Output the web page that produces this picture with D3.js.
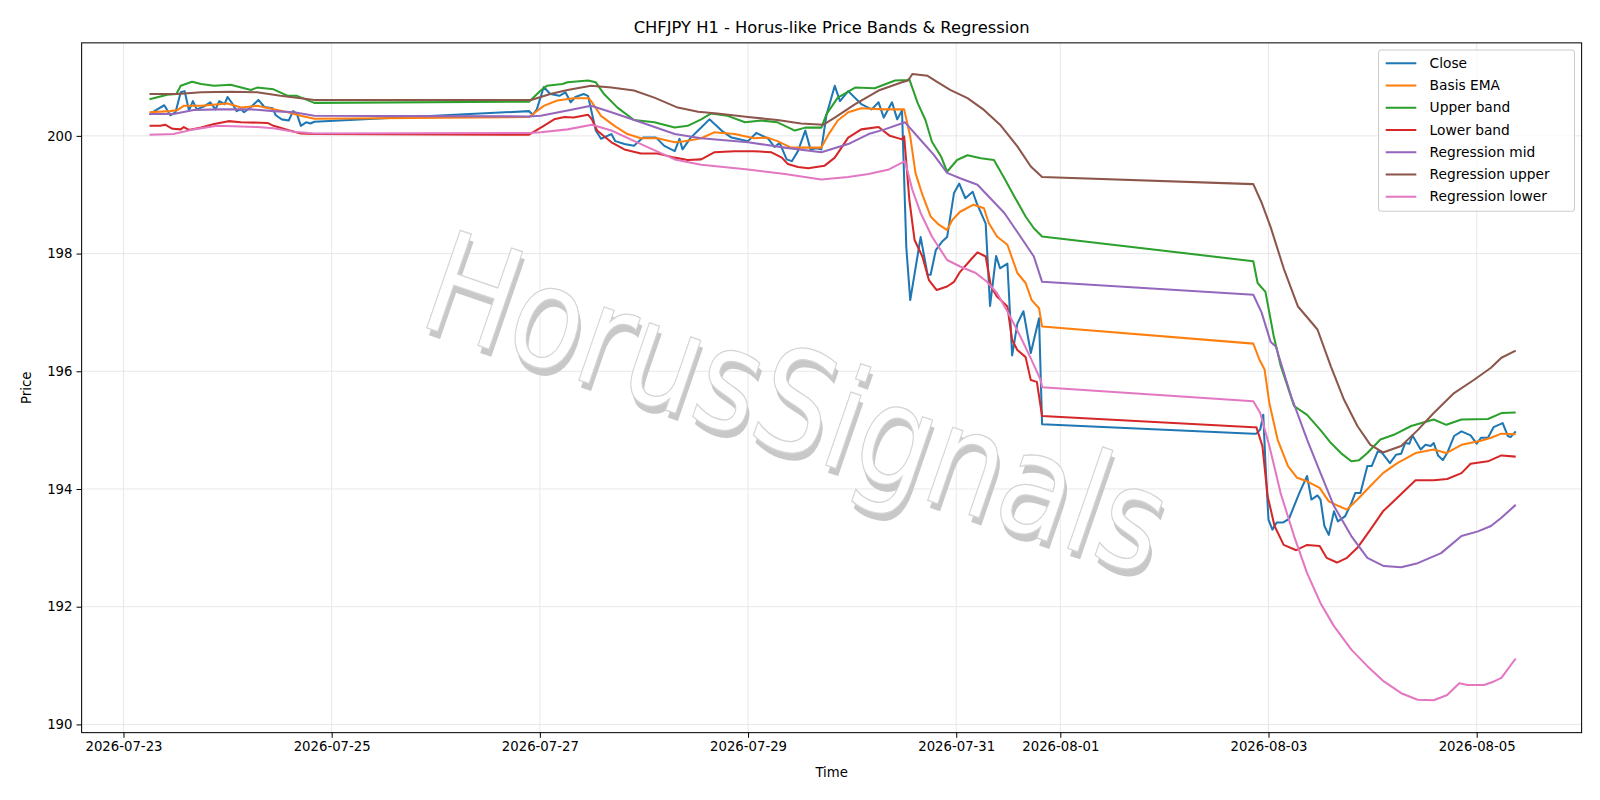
<!DOCTYPE html>
<html><head><meta charset="utf-8">
<script src="https://cdn.jsdelivr.net/npm/d3@7"></script>
<style>body{margin:0;background:#fff}svg{font-family:"DejaVu Sans",sans-serif}</style>
</head><body><svg id="c" width="1600" height="800"></svg>
<script>
// times are hours after 2026-07-23 00:00
const closeData = [[6,200.36],[7.3,200.43],[9.4,200.52],[10.8,200.35],[12,200.40],[13.2,200.74],[14.1,200.76],[15.1,200.43],[16,200.59],[16.9,200.45],[18.6,200.50],[20,200.57],[21.2,200.45],[22.1,200.59],[23.3,200.54],[24,200.66],[24.9,200.57],[26.1,200.42],[27.1,200.45],[27.8,200.40],[29.4,200.49],[31.1,200.61],[32.5,200.49],[34.4,200.47],[35.1,200.35],[36.5,200.28],[38.1,200.26],[39.1,200.42],[40,200.37],[40.9,200.17],[42.1,200.23],[43.1,200.21],[44,200.24],
[93.5,200.42],[94.4,200.36],[95.3,200.45],[96.9,200.83],[98.4,200.71],[100.5,200.68],[101.9,200.74],[103.1,200.57],[104.2,200.66],[106.1,200.71],[107.1,200.68],[108.9,200.09],[110.1,199.95],[112.5,200.03],[113.4,199.91],[115.5,199.86],[117.7,199.83],[119.8,199.97],[122.8,199.97],[124.7,199.83],[127.1,199.74],[128.2,199.95],[128.9,199.77],[130.8,199.97],[132.5,200.09],[135.1,200.28],[137.9,200.09],[140.2,199.97],[144,199.91],[145.9,200.05],[148.7,199.95],[150.1,199.81],[151.3,199.88],[152.9,199.60],[154.1,199.57],[155.5,199.74],[157.2,200.09],[158.4,199.77],[159.8,199.79],[160.9,199.77],[162.1,200.36],[164,200.85],[165.2,200.59],[167.1,200.76],[170.1,200.54],[172.5,200.45],[174.1,200.57],[175.3,200.31],[177.2,200.57],[178.4,200.28],[179.5,200.43],[180.5,198.1],[181.4,197.21],[183.8,198.28],[185.4,197.64],[186.1,197.64],[187.3,198.06],[188.7,198.20],[189.9,198.28],[191.5,199.03],[192.7,199.19],[194.1,198.94],[195.8,199.05],[196.7,198.86],[198.8,198.51],[199.8,197.11],[201.2,197.96],[202.1,197.75],[203.8,197.83],[204.9,196.27],[206.1,196.81],[207.5,197.02],[209.2,196.31],[211.1,196.90],[211.8,195.10],
[260.5,194.94],[261.2,194.94],[262.1,195.01],[262.8,195.26],[263.3,194.44],[264,193.48],[264.9,193.31],[265.9,193.43],[267.3,193.43],[268.7,193.49],[271.1,193.93],[272.9,194.22],[273.9,193.82],[275.3,193.89],[276,193.82],[276.9,193.37],[277.9,193.22],[279.1,193.62],[280,193.45],[281.7,193.54],[283.1,193.76],[284,193.93],[285.2,193.93],[286.8,194.39],[287.8,194.39],[289.2,194.64],[290.1,194.62],[292,194.44],[293.4,194.58],[294.6,194.60],[295.5,194.78],[296.5,194.77],[297.2,194.91],[299.1,194.67],[300.2,194.75],[301.4,194.73],[302.1,194.78],[303.1,194.57],[304.2,194.49],[305.2,194.61],[306.8,194.90],[308.5,194.98],[310.6,194.91],[312,194.77],[313,194.87],[314.6,194.87],[315.9,195.05],[318,195.12],[319.2,194.90],[319.8,194.88],[321,194.98]];
const basisEma = [[6,200.40],[10.8,200.42],[12.5,200.44],[13.9,200.51],[17.9,200.51],[24,200.55],[27.1,200.48],[30.8,200.51],[34.6,200.45],[37.9,200.40],[40.9,200.34],[44,200.29],
[93.5,200.32],[96.9,200.51],[100,200.60],[103.8,200.64],[107.3,200.64],[108,200.57],[110.1,200.34],[113.2,200.17],[116.2,200.03],[119.3,199.96],[123.1,199.96],[127.1,199.89],[129.4,199.91],[133.2,199.96],[136.2,200.06],[140.9,200.03],[145.4,199.96],[148.5,199.97],[150.8,199.91],[153.9,199.80],[157.9,199.80],[160.9,199.80],[162.6,200.03],[164.7,200.26],[167.1,200.40],[170.1,200.47],[175.5,200.45],[180,200.45],[181.4,199.99],[182.6,199.37],[184.2,199.0],[186.1,198.63],[188,198.49],[189.9,198.40],[191.1,198.57],[192.9,198.71],[196,198.83],[198.4,198.77],[199.5,198.52],[201.4,198.29],[203.8,198.15],[206.1,197.67],[208,197.50],[209.4,197.21],[211.1,197.07],[211.8,196.76],
[260.5,196.47],[261.9,196.20],[263.1,196.03],[264.2,195.46],[266.1,194.84],[268.5,194.39],[270.6,194.19],[272.9,194.13],[275.8,194.02],[277.9,193.79],[280.2,193.71],[282.1,193.65],[284.5,193.82],[287.5,194.05],[290.4,194.27],[293.7,194.44],[297.9,194.61],[302.1,194.67],[305,194.61],[308.5,194.75],[313,194.82],[315.3,194.87],[317.7,194.94],[321,194.93]];
const upperBand = [[6,200.62],[10.1,200.70],[12.2,200.71],[13.2,200.85],[15.8,200.92],[17.9,200.88],[20.9,200.85],[24.7,200.87],[29.4,200.78],[30.8,200.82],[34.6,200.79],[37.9,200.68],[40,200.68],[44,200.56],
[93.5,200.58],[96.2,200.77],[97.6,200.85],[101.2,200.88],[102.4,200.91],[107.1,200.94],[108.9,200.91],[110.8,200.71],[113.9,200.48],[117.7,200.27],[122.4,200.23],[127.1,200.14],[130.1,200.17],[133.2,200.28],[135.5,200.38],[139.3,200.34],[143.3,200.23],[147.1,200.26],[150.8,200.23],[154.8,200.09],[157.2,200.14],[160.9,200.14],[162.1,200.37],[164.7,200.65],[168.7,200.82],[173.2,200.81],[177.9,200.94],[180.7,200.95],[181.2,200.96],[183.1,200.56],[184.9,200.27],[186.4,199.90],[188.5,199.65],[189.9,199.39],[192.2,199.59],[194.6,199.67],[197.7,199.62],[200.7,199.59],[203.1,199.28],[205.4,198.97],[208,198.63],[209.9,198.43],[211.8,198.29],
[260.5,197.87],[261.5,197.50],[263.3,197.35],[265.2,196.60],[266.8,196.10],[269.9,195.41],[272.9,195.26],[276,195.0],[278.4,194.78],[280.7,194.61],[283.1,194.47],[284.9,194.49],[286.8,194.61],[289.8,194.84],[292.9,194.92],[296.9,195.07],[302.1,195.18],[305,195.09],[308.5,195.18],[314.6,195.19],[317.7,195.29],[321,195.30]];
const lowerBand = [[6,200.17],[8.5,200.17],[9.6,200.19],[11.3,200.12],[13.2,200.11],[13.9,200.15],[15.1,200.10],[17.9,200.14],[20.9,200.20],[24.2,200.25],[27.1,200.23],[33.2,200.22],[34.6,200.17],[37.9,200.10],[40.9,200.04],[44,200.03],
[93.5,200.02],[96.9,200.17],[99.3,200.28],[101.7,200.32],[103.8,200.31],[107.1,200.36],[108,200.28],[109.2,200.09],[112.5,199.89],[115.5,199.77],[119.3,199.70],[123.1,199.70],[127.1,199.63],[130.1,199.59],[133.2,199.60],[136.2,199.72],[140.9,199.74],[145.4,199.74],[149.4,199.72],[151.8,199.63],[153.2,199.52],[155.5,199.47],[157.9,199.45],[161.6,199.49],[164,199.63],[167.1,199.97],[170.1,200.11],[174.1,200.15],[176.7,200.0],[179.5,199.94],[180,199.99],[181.2,198.91],[182.4,198.23],[184.2,197.95],[185.7,197.55],[187.5,197.38],[189.9,197.44],[191.5,197.52],[192.9,197.69],[195.3,197.89],[196.9,198.02],[198.8,197.95],[200,197.44],[201.4,197.27],[203.8,197.10],[204.9,196.53],[206.1,196.36],[208,196.24],[209.2,195.85],[210.6,195.82],[211.8,195.24],
[260.5,195.05],[261.2,195.05],[262.6,194.73],[263.8,193.88],[265.4,193.37],[267.5,193.05],[270.4,192.96],[272.9,193.05],[275.8,193.03],[277.4,192.83],[279.8,192.75],[282.1,192.83],[284.5,193.0],[287.5,193.31],[290.4,193.62],[293.7,193.85],[297.9,194.15],[302.1,194.15],[305.2,194.17],[308.5,194.27],[310.6,194.43],[314.6,194.47],[317.7,194.57],[321,194.55]];
const regMid = [[6,200.37],[11.5,200.37],[16.2,200.44],[21.6,200.45],[29.4,200.45],[34.6,200.42],[39.3,200.40],[44,200.34],
[93.5,200.33],[96.2,200.34],[102.4,200.43],[107.8,200.51],[112.5,200.40],[119.3,200.23],[127.1,200.03],[133.2,199.96],[144,199.89],[152.5,199.80],[160.9,199.72],[167.1,199.86],[171.8,200.03],[175.5,200.11],[180.2,200.23],[183.8,199.93],[186.8,199.68],[189.9,199.37],[192.9,199.28],[196.9,199.17],[199.1,199.0],[203.1,198.69],[206.8,198.29],[209.9,197.95],[211.8,197.52],
[260.5,197.30],[262.4,197.0],[264.5,196.5],[265.7,196.42],[269.2,195.58],[272.9,194.84],[276,194.27],[279.1,193.71],[283.1,193.20],[286.8,192.83],[290.6,192.69],[294.6,192.67],[298.4,192.74],[303.8,192.91],[308.5,193.20],[312.3,193.28],[315.3,193.37],[317.7,193.51],[321,193.73]];
const regUpper = [[6,200.71],[12.5,200.71],[17.9,200.74],[24.7,200.75],[30.8,200.74],[36.2,200.68],[40.9,200.64],[44,200.61],
[93.5,200.61],[94,200.61],[98.4,200.71],[102.4,200.78],[107.8,200.85],[112.5,200.82],[117.7,200.77],[122.4,200.65],[127.8,200.48],[132.5,200.41],[136.9,200.38],[144,200.32],[150.8,200.27],[156.2,200.21],[161.4,200.19],[164,200.31],[168.7,200.54],[174.1,200.77],[179.5,200.91],[180.9,200.94],[181.9,201.05],[185.4,201.02],[187.5,200.92],[190.6,200.78],[194.6,200.64],[198.4,200.44],[202.1,200.19],[206.1,199.82],[209.2,199.48],[211.8,199.30],
[260.5,199.18],[262.5,198.85],[264.5,198.45],[267.5,197.75],[270.8,197.10],[275.3,196.71],[278.4,196.08],[281.4,195.52],[284.5,195.07],[287.5,194.75],[290.4,194.62],[294.6,194.73],[298.4,195.0],[302.1,195.29],[306.8,195.63],[311.5,195.86],[315.3,196.06],[317.7,196.23],[321,196.35]];
const regLower = [[6,200.02],[11.5,200.03],[16.2,200.11],[21.6,200.17],[30.8,200.15],[34.6,200.13],[39.3,200.07],[44,200.04],
[93.5,200.05],[96.2,200.06],[102.4,200.11],[108,200.19],[112.5,200.09],[119.3,199.86],[127.1,199.60],[133.2,199.51],[144,199.43],[152.5,199.35],[160.9,199.26],[167.1,199.30],[171.8,199.35],[176.5,199.43],[180.2,199.57],[181.9,199.08],[183.8,198.69],[186.4,198.29],[189.9,197.89],[192.9,197.78],[196.5,197.67],[199.1,197.52],[201.4,197.33],[204,196.99],[206.8,196.59],[209.2,196.22],[211.5,195.85],[211.8,195.73],
[260.5,195.49],[262.1,195.29],[264.2,194.73],[266.8,193.93],[269.9,193.20],[272.9,192.57],[276,192.06],[279.1,191.67],[283.1,191.27],[286.8,190.99],[290.6,190.73],[294.6,190.53],[298.4,190.42],[302.1,190.41],[305.2,190.50],[308,190.70],[309.9,190.67],[313.7,190.67],[316,190.73],[317.7,190.79],[321,191.12]];

const seriesNames = ["Close","Basis EMA","Upper band","Lower band","Regression mid","Regression upper","Regression lower"];
const seriesColors = ["#1f77b4","#ff7f0e","#2ca02c","#d62728","#9467bd","#8c564b","#e377c2"];
const seriesData = [closeData,basisEma,upperBand,lowerBand,regMid,regUpper,regLower];
const xTickDates = ["2026-07-23","2026-07-25","2026-07-27","2026-07-29","2026-07-31","2026-08-01","2026-08-03","2026-08-05"];
const yTicks = [190,192,194,196,198,200];

const t0 = new Date(2026,6,23,0,0);
const toDate = h => new Date(t0.getTime()+h*3600e3);
const svg = d3.select("#c").append("g").attr("transform","scale(1.0204)");
const L=80,R=1550,T=42,B=718;
const x = d3.scaleTime().domain([toDate(-9.65),toDate(336.2)]).range([L,R]);
const y = d3.scaleLinear().domain([189.86,201.58]).range([B,T]);

const xt = xTickDates.map(s=>{const [a,b,c]=s.split("-").map(Number);return new Date(a,b-1,c);});
svg.append("g").selectAll("line").data(xt).join("line")
 .attr("x1",d=>x(d)).attr("x2",d=>x(d)).attr("y1",T).attr("y2",B).attr("stroke","#e3e3e3").attr("stroke-width",0.8);
svg.append("g").selectAll("line").data(yTicks).join("line")
 .attr("y1",d=>y(d)).attr("y2",d=>y(d)).attr("x1",L).attr("x2",R).attr("stroke","#e3e3e3").attr("stroke-width",0.8);

// watermark
const wm = svg.append("g").attr("transform",`translate(778,405) rotate(19) scale(0.88,1.05)`);
wm.append("text").attr("text-anchor","middle").attr("dominant-baseline","middle").attr("x",5).attr("y",6)
 .attr("font-size",132).attr("fill","#c8c8c8").text("HorusSignals");
wm.append("text").attr("text-anchor","middle").attr("dominant-baseline","middle")
 .attr("font-size",132).attr("fill","#ffffff").attr("stroke","#d4d4d4").attr("stroke-width",1.2).text("HorusSignals");

const line = d3.line().x(d=>x(toDate(d[0]))).y(d=>y(d[1]));
seriesData.forEach((s,i)=>{
 svg.append("path").datum(s).attr("d",line).attr("fill","none").attr("stroke",seriesColors[i]).attr("stroke-width",2).attr("stroke-linejoin","round");
});

const xa = svg.append("g").attr("transform",`translate(0,${B})`)
 .call(d3.axisBottom(x).tickValues(xt).tickFormat(d3.timeFormat("%Y-%m-%d")).tickSizeOuter(0).tickSize(5).tickPadding(4));
const ya = svg.append("g").attr("transform",`translate(${L},0)`)
 .call(d3.axisLeft(y).tickValues(yTicks).tickFormat(d3.format("d")).tickSizeOuter(0).tickSize(5).tickPadding(4));
[xa,ya].forEach(a=>{a.selectAll("text").attr("font-size",13).attr("fill","#000").attr("font-family","DejaVu Sans");a.select(".domain").remove();a.selectAll("line").attr("stroke","#000");});
svg.append("rect").attr("x",L).attr("y",T).attr("width",R-L).attr("height",B-T).attr("fill","none").attr("stroke","#000").attr("stroke-width",1);

svg.append("text").attr("x",(L+R)/2).attr("y",32).attr("text-anchor","middle").attr("font-size",16).text("CHFJPY H1 - Horus-like Price Bands & Regression");
svg.append("text").attr("x",(L+R)/2).attr("y",761).attr("text-anchor","middle").attr("font-size",13).text("Time");
svg.append("text").attr("transform","translate(30,380) rotate(-90)").attr("text-anchor","middle").attr("font-size",13).text("Price");

const lg = svg.append("g");
lg.append("rect").attr("x",1351).attr("y",49).attr("width",192).attr("height",158).attr("rx",3).attr("fill","#fff").attr("fill-opacity",0.8).attr("stroke","#ccc");
seriesNames.forEach((n,i)=>{
 const yy=62+i*21.8;
 lg.append("line").attr("x1",1358).attr("x2",1388).attr("y1",yy).attr("y2",yy).attr("stroke",seriesColors[i]).attr("stroke-width",2);
 lg.append("text").attr("x",1401).attr("y",yy+4.5).attr("font-size",13.5).text(n);
});
</script></body></html>
